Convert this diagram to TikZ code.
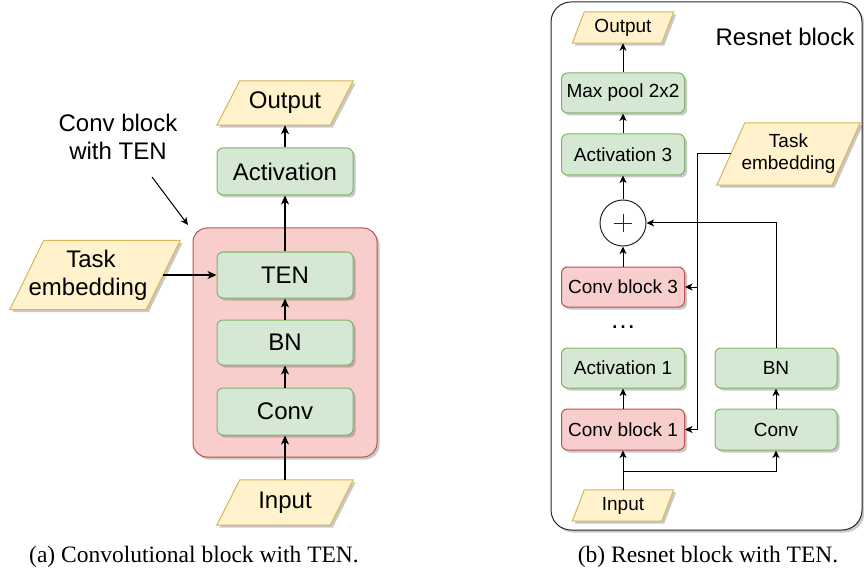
\documentclass[tikz,border=0pt]{standalone}
\usepackage{fontspec}
\setmainfont{Liberation Sans}
\newfontfamily\capfont{Liberation Serif}
\usetikzlibrary{arrows.meta,shadows,calc}
\pgfdeclarelayer{back}
\pgfdeclarelayer{background}
\pgfsetlayers{back,background,main}
\definecolor{gfill}{HTML}{D5E8D4}
\definecolor{gline}{HTML}{82B366}
\definecolor{rfill}{HTML}{F8CECC}
\definecolor{rline}{HTML}{B85450}
\definecolor{yfill}{HTML}{FFF2CC}
\definecolor{yline}{HTML}{D6B656}
\tikzset{
  shad/.style={drop shadow={shadow xshift=2.5bp, shadow yshift=-2.5bp, opacity=0.3, fill=black!70}},
  gbox/.style={draw=gline, fill=gfill, rounded corners=6bp, line width=1bp, shad, inner sep=0pt},
  rbox/.style={draw=rline, fill=rfill, rounded corners=6bp, line width=1bp, shad, inner sep=0pt},
  big/.style={font=\fontsize{24bp}{28bp}\selectfont},
  small/.style={font=\fontsize{19bp}{22bp}\selectfont},
  ptext/.style={inner sep=0pt, align=center},
  para/.style={draw=yline, fill=yfill, line width=1bp, shad},
  arr/.style={-{Stealth[length=9bp,width=8bp,inset=2.5bp]}, line width=1.1bp, draw=black},
  arrs/.style={-{Stealth[length=7.5bp,width=7bp,inset=2bp]}, line width=1bp, draw=black},
  captext/.style={font=\capfont\fontsize{23.5bp}{26bp}\selectfont, inner sep=0pt}
}
\newcommand{\paral}[2]{%
  \begin{pgfonlayer}{background}
    \path[para] ([xshift=#2]#1.north west) -- ([xshift=#2]#1.north east)
      -- ([xshift=-#2]#1.south east) -- ([xshift=-#2]#1.south west) -- cycle;
  \end{pgfonlayer}}
\begin{document}
\begin{tikzpicture}[x=1bp, y=-1bp]
\useasboundingbox (0,0) rectangle (864,573);

% ---------- (a) ----------
\node[rbox, rounded corners=14bp, minimum width=184bp, minimum height=229bp] (cont) at (285,342.5) {};
\node[gbox, big, minimum width=136bp, minimum height=47bp] (act) at (285,171.5) {Activation};
\node[gbox, big, minimum width=136bp, minimum height=46bp] (ten) at (285,275) {TEN};
\node[gbox, big, minimum width=136bp, minimum height=45bp] (bn) at (285,342.5) {BN};
\node[gbox, big, minimum width=136bp, minimum height=47bp] (conv) at (285,411.5) {Conv};

\node[ptext, big, minimum width=113bp, minimum height=44bp] (lout) at (285,103) {Output};
\paral{lout}{11.5bp}
\node[ptext, big, minimum width=113bp, minimum height=45bp] (lin) at (285,502.5) {Input};
\paral{lin}{11.5bp}
\node[ptext, big, minimum width=136bp, minimum height=69bp] (ltask) at (95,275) {\hspace*{-8bp}Task\\\hspace*{-14bp}embedding};
\paral{ltask}{17bp}

\node[ptext, big] (ann) at (118,137) {Conv block\\with TEN};
\coordinate (annA) at (152,177);
\coordinate (annB) at (188,225);
\draw[arrs] (annA) -- (annB);

\draw[arr] (lin.north) -- (conv.south);
\draw[arr] (conv.north) -- (bn.south);
\draw[arr] (bn.north) -- (ten.south);
\draw[arr] (ten.north) -- (act.south);
\draw[arr] (act.north) -- (lout.south);
\draw[arr] (ltask.east) -- (ten.west);

\node[captext] (capa) at (194,557) {(a) Convolutional block with TEN.};

% ---------- (b) ----------
\begin{pgfonlayer}{back}
\node[draw=black!85, fill=white, line width=1bp, rounded corners=20bp, minimum width=311bp, minimum height=528bp, shad] (outer) at (706.5,266) {};
\end{pgfonlayer}
\node[big] (rlabel) at (785,37) {Resnet block};

\node[ptext, small, minimum width=89bp, minimum height=31bp] (rout) at (623,27.5) {Output};
\paral{rout}{6bp}
\node[gbox, small, minimum width=123bp, minimum height=40bp] (pool) at (623,93) {Max pool 2x2};
\node[gbox, small, minimum width=123bp, minimum height=41bp] (act3) at (623,154.5) {Activation 3};
\node[circle, draw=black!85, fill=white, line width=1bp, minimum size=46bp, inner sep=0pt,
  path picture={\draw[line width=0.9bp] (path picture bounding box.center) ++(-9bp,0) -- ++(18bp,0);
                \draw[line width=0.9bp] (path picture bounding box.center) ++(0,-9bp) -- ++(0,18bp);}] (plus) at (623,223) {};
\node[rbox, small, minimum width=123bp, minimum height=40bp] (cb3) at (623,287) {Conv block 3};
\node[anchor=base, font=\fontsize{26bp}{28bp}\selectfont, inner sep=0pt] (dots) at (623,328) {…};
\node[gbox, small, minimum width=123bp, minimum height=40bp] (act1) at (623,368) {Activation 1};
\node[rbox, small, minimum width=123bp, minimum height=41bp] (cb1) at (623,429.5) {Conv block 1};
\node[gbox, small, minimum width=122bp, minimum height=40bp] (bn2) at (776,368) {BN};
\node[gbox, small, minimum width=122bp, minimum height=41bp] (conv2) at (776,429.5) {Conv};
\node[ptext, small, minimum width=89bp, minimum height=31bp] (rin) at (623,505.5) {Input};
\paral{rin}{6bp}
\node[ptext, small, minimum width=115bp, minimum height=62bp] (rtask) at (788.5,154) {Task\\embedding};
\paral{rtask}{14bp}

\draw[arrs] (rin.north) -- (cb1.south);
\coordinate (br) at (623,471);
\draw[arrs] (br) -| (conv2.south);
\draw[arrs] (conv2.north) -- (bn2.south);
\draw[arrs] (bn2.north) |- (plus.east);
\draw[arrs] (cb1.north) -- (act1.south);
\draw[arrs] (cb3.north) -- (plus.south);
\draw[arrs] (plus.north) -- (act3.south);
\draw[arrs] (act3.north) -- (pool.south);
\draw[arrs] (pool.north) -- (rout.south);
\coordinate (tj) at (697,154);
\draw[arrs] (rtask.west) -- (tj) |- (cb1.east);
\draw[arrs] (tj |- cb3.east) -- (cb3.east);

\node[captext] (capb) at (708,557) {(b) Resnet block with TEN.};
\end{tikzpicture}
\end{document}
